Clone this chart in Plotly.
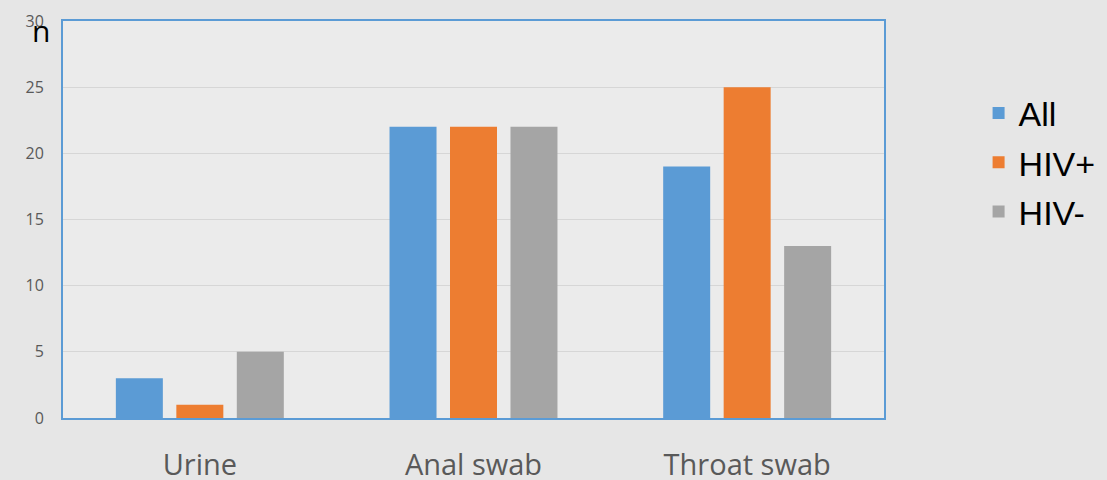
import plotly.graph_objects as go

categories = ["Urine", "Anal swab", "Throat swab"]
all_vals = [3, 22, 19]
hiv_pos = [1, 22, 25]
hiv_neg = [5, 22, 13]
y_ticks = [0, 5, 10, 15, 20, 25, 30]

series = [("All", all_vals, "#5b9bd5"), ("HIV+", hiv_pos, "#ed7d31"), ("HIV-", hiv_neg, "#a5a5a5")]

fig = go.Figure()
for i, (name, vals, col) in enumerate(series):
    fig.add_trace(go.Bar(x=categories, y=vals, name=name, marker_color=col,
                         marker_line_width=0, legendgroup=str(i)))

fig.update_layout(
    width=1107, height=480,
    margin=dict(l=63, r=223, t=21, b=62),
    paper_bgcolor="#e6e6e6",
    plot_bgcolor="#ebebeb",
    font=dict(family="Open Sans, sans-serif"),
    barmode="group",
    bargap=0.337,
    bargroupgap=0.223,
    legend=dict(xref="container", yref="container", x=0.884, y=0.824,
                xanchor="left", yanchor="top",
                font=dict(size=34, color="#000000", family="Liberation Sans, Arial, sans-serif"),
                tracegroupgap=2, bgcolor="rgba(0,0,0,0)", borderwidth=0),
    annotations=[dict(text="n", xref="x domain", yref="y domain",
                      x=-0.027, y=0.975, xanchor="center", yanchor="middle",
                      showarrow=False, font=dict(size=30, color="#000000"))],
)
fig.update_xaxes(showline=True, linecolor="#5b9bd5", linewidth=2, mirror=True,
                 automargin=False, tickfont=dict(size=29, color="#595959"),
                 ticklabelstandoff=20)
fig.update_yaxes(range=[0, 30], tickvals=y_ticks, showline=True, linecolor="#5b9bd5",
                 linewidth=2, mirror=True, gridcolor="#d6d6d6", gridwidth=1,
                 zeroline=False, automargin=False, tickfont=dict(size=16, color="#595959"),
                 ticklabelstandoff=14)

page_css = ("document.documentElement.style.margin='0';"
            "document.documentElement.style.overflow='hidden';"
            "document.body.style.margin='0';"
            "document.body.style.overflow='hidden';"
            "document.body.style.background='#e6e6e6';")
fig.write_html("out.html", config={"displayModeBar": False}, post_script=page_css)
